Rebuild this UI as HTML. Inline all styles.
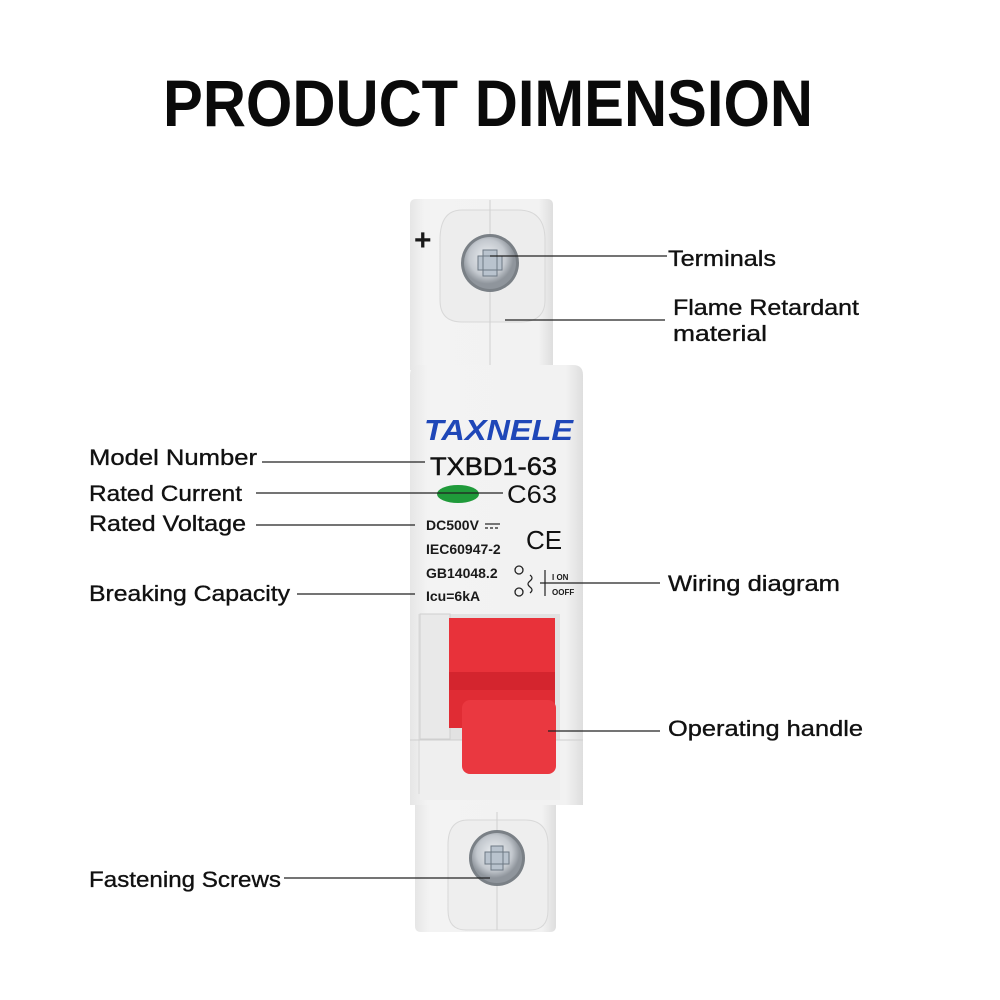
<!DOCTYPE html>
<html><head><meta charset="utf-8"><style>
html,body{margin:0;padding:0;background:#fff;width:1000px;height:1000px;overflow:hidden}
svg{display:block}
.l{font-family:"Liberation Sans",sans-serif;font-size:22px;fill:#111;stroke:#111;stroke-width:0.35}
.ln{stroke:#222;stroke-width:1.3}
.b{font-family:"Liberation Sans",sans-serif;font-weight:bold;fill:#1a1a1a}
</style></head><body>
<svg width="1000" height="1000" viewBox="0 0 1000 1000">
<defs>
<linearGradient id="bd" x1="0" x2="1"><stop offset="0" stop-color="#e6e6e6"/><stop offset="0.1" stop-color="#f3f3f3"/><stop offset="0.9" stop-color="#f2f2f2"/><stop offset="1" stop-color="#dedede"/></linearGradient>
<radialGradient id="sc" cx="0.45" cy="0.4"><stop offset="0" stop-color="#eef1f4"/><stop offset="0.7" stop-color="#c3c8ce"/><stop offset="1" stop-color="#8f959c"/></radialGradient>
</defs>
<text x="488" y="126" text-anchor="middle" textLength="650" lengthAdjust="spacingAndGlyphs" style="font-family:'Liberation Sans',sans-serif;font-weight:bold;font-size:66px;fill:#0a0a0a">PRODUCT DIMENSION</text>

<!-- top terminal -->
<path d="M410 205 Q410 199 416 199 L547 199 Q553 199 553 205 L553 370 L410 370 Z" fill="url(#bd)"/>
<path d="M462 210 L518 210 Q545 210 545 240 L545 300 Q545 322 520 322 L462 322 Q440 322 440 300 L440 240 Q440 210 462 210Z" fill="#ededed" stroke="#d8d8d8"/>
<line x1="490" y1="200" x2="490" y2="370" stroke="#d0d0d0"/>
<text x="414" y="250" class="b" font-size="30">+</text>
<circle cx="490" cy="263" r="29" fill="#7a8086"/>
<circle cx="490" cy="263" r="26" fill="url(#sc)"/>
<path d="M478 256 h24 v14 h-24z M483 250 h14 v26 h-14z" fill="#b9c3ce" stroke="#6d7884"/>

<!-- lower terminal -->
<path d="M415 800 L556 800 L556 926 Q556 932 550 932 L421 932 Q415 932 415 926 Z" fill="url(#bd)"/>
<path d="M468 820 L525 820 Q548 820 548 845 L548 910 Q548 930 530 930 L466 930 Q448 930 448 910 L448 845 Q448 820 468 820Z" fill="#eeeeee" stroke="#d8d8d8"/>
<line x1="497" y1="812" x2="497" y2="930" stroke="#d0d0d0"/>
<circle cx="497" cy="858" r="28" fill="#7a8086"/>
<circle cx="497" cy="858" r="25" fill="url(#sc)"/>
<path d="M485 852 h24 v12 h-24z M491 846 h12 v24 h-12z" fill="#b9c3ce" stroke="#6d7884"/>

<!-- front body -->
<path d="M410 375 Q410 365 420 365 L573 365 Q583 365 583 375 L583 805 L410 805 Z" fill="url(#bd)"/>
<rect x="418" y="614" width="142" height="180" fill="#e2e2e2"/>
<rect x="420" y="614" width="30" height="125" fill="#e9e9e9" stroke="#cfcfcf"/>
<rect x="420" y="740" width="140" height="60" fill="#efefef"/>
<line x1="410" y1="740" x2="583" y2="740" stroke="#cfcfcf"/>
<!-- red handle -->
<rect x="449" y="618" width="106" height="110" fill="#e02c34"/>
<rect x="449" y="618" width="106" height="55" fill="#e8323a"/>
<rect x="449" y="672" width="106" height="18" fill="#d4252e"/>
<rect x="462" y="700" width="94" height="74" rx="8" fill="#ea3840"/>

<!-- front text -->
<text x="424" y="440" textLength="149" lengthAdjust="spacingAndGlyphs" style="font-family:'Liberation Sans',sans-serif;font-weight:bold;font-style:italic;font-size:29px;fill:#1f47b8">TAXNELE</text>
<text x="430" y="475" textLength="127" lengthAdjust="spacingAndGlyphs" style="font-family:'Liberation Sans',sans-serif;font-size:25px;fill:#111;stroke:#111;stroke-width:0.5">TXBD1-63</text>
<ellipse cx="458" cy="494" rx="21" ry="9" fill="#1f9a3a"/>
<text x="507" y="503" textLength="50" lengthAdjust="spacingAndGlyphs" style="font-family:'Liberation Sans',sans-serif;font-size:25px;fill:#111">C63</text>
<text x="426" y="530" class="b" font-size="14">DC500V</text>
<line x1="485" y1="524" x2="500" y2="524" stroke="#222" stroke-width="1.2"/>
<line x1="485" y1="528" x2="500" y2="528" stroke="#222" stroke-width="1.2" stroke-dasharray="3 2"/>
<text x="426" y="554" class="b" font-size="14">IEC60947-2</text>
<text x="426" y="578" class="b" font-size="14">GB14048.2</text>
<text x="426" y="601" class="b" font-size="14">Icu=6kA</text>
<text x="526" y="549" style="font-family:'Liberation Sans',sans-serif;font-size:26px;fill:#111">CE</text>
<circle cx="519" cy="570" r="4" fill="none" stroke="#222" stroke-width="1.3"/>
<circle cx="519" cy="592" r="4" fill="none" stroke="#222" stroke-width="1.3"/>
<path d="M530 575 q4 3 0 6 q-4 3 0 6 q4 3 0 6" fill="none" stroke="#222" stroke-width="1.2"/>
<line x1="545" y1="570" x2="545" y2="596" stroke="#222" stroke-width="1.2"/>
<text x="552" y="580" class="b" font-size="8">I ON</text>
<text x="552" y="595" class="b" font-size="8">OOFF</text>

<!-- leader lines -->
<line class="ln" x1="490" y1="256" x2="667" y2="256"/>
<line class="ln" x1="505" y1="320" x2="665" y2="320"/>
<line class="ln" x1="262" y1="462" x2="425" y2="462"/>
<line class="ln" x1="256" y1="493" x2="503" y2="493"/>
<line class="ln" x1="256" y1="525" x2="415" y2="525"/>
<line class="ln" x1="297" y1="594" x2="415" y2="594"/>
<line class="ln" x1="540" y1="583" x2="660" y2="583"/>
<line class="ln" x1="548" y1="731" x2="660" y2="731"/>
<line class="ln" x1="284" y1="878" x2="490" y2="878"/>

<!-- labels -->
<text class="l" x="668" y="266" textLength="108" lengthAdjust="spacingAndGlyphs">Terminals</text>
<text class="l" x="673" y="315" textLength="186" lengthAdjust="spacingAndGlyphs">Flame Retardant</text>
<text class="l" x="673" y="341" textLength="94" lengthAdjust="spacingAndGlyphs">material</text>
<text class="l" x="89" y="465" textLength="168" lengthAdjust="spacingAndGlyphs">Model Number</text>
<text class="l" x="89" y="501" textLength="153" lengthAdjust="spacingAndGlyphs">Rated Current</text>
<text class="l" x="89" y="531" textLength="157" lengthAdjust="spacingAndGlyphs">Rated Voltage</text>
<text class="l" x="89" y="601" textLength="201" lengthAdjust="spacingAndGlyphs">Breaking Capacity</text>
<text class="l" x="668" y="591" textLength="172" lengthAdjust="spacingAndGlyphs">Wiring diagram</text>
<text class="l" x="668" y="736" textLength="195" lengthAdjust="spacingAndGlyphs">Operating handle</text>
<text class="l" x="89" y="887" textLength="192" lengthAdjust="spacingAndGlyphs">Fastening Screws</text>
</svg>
</body></html>
